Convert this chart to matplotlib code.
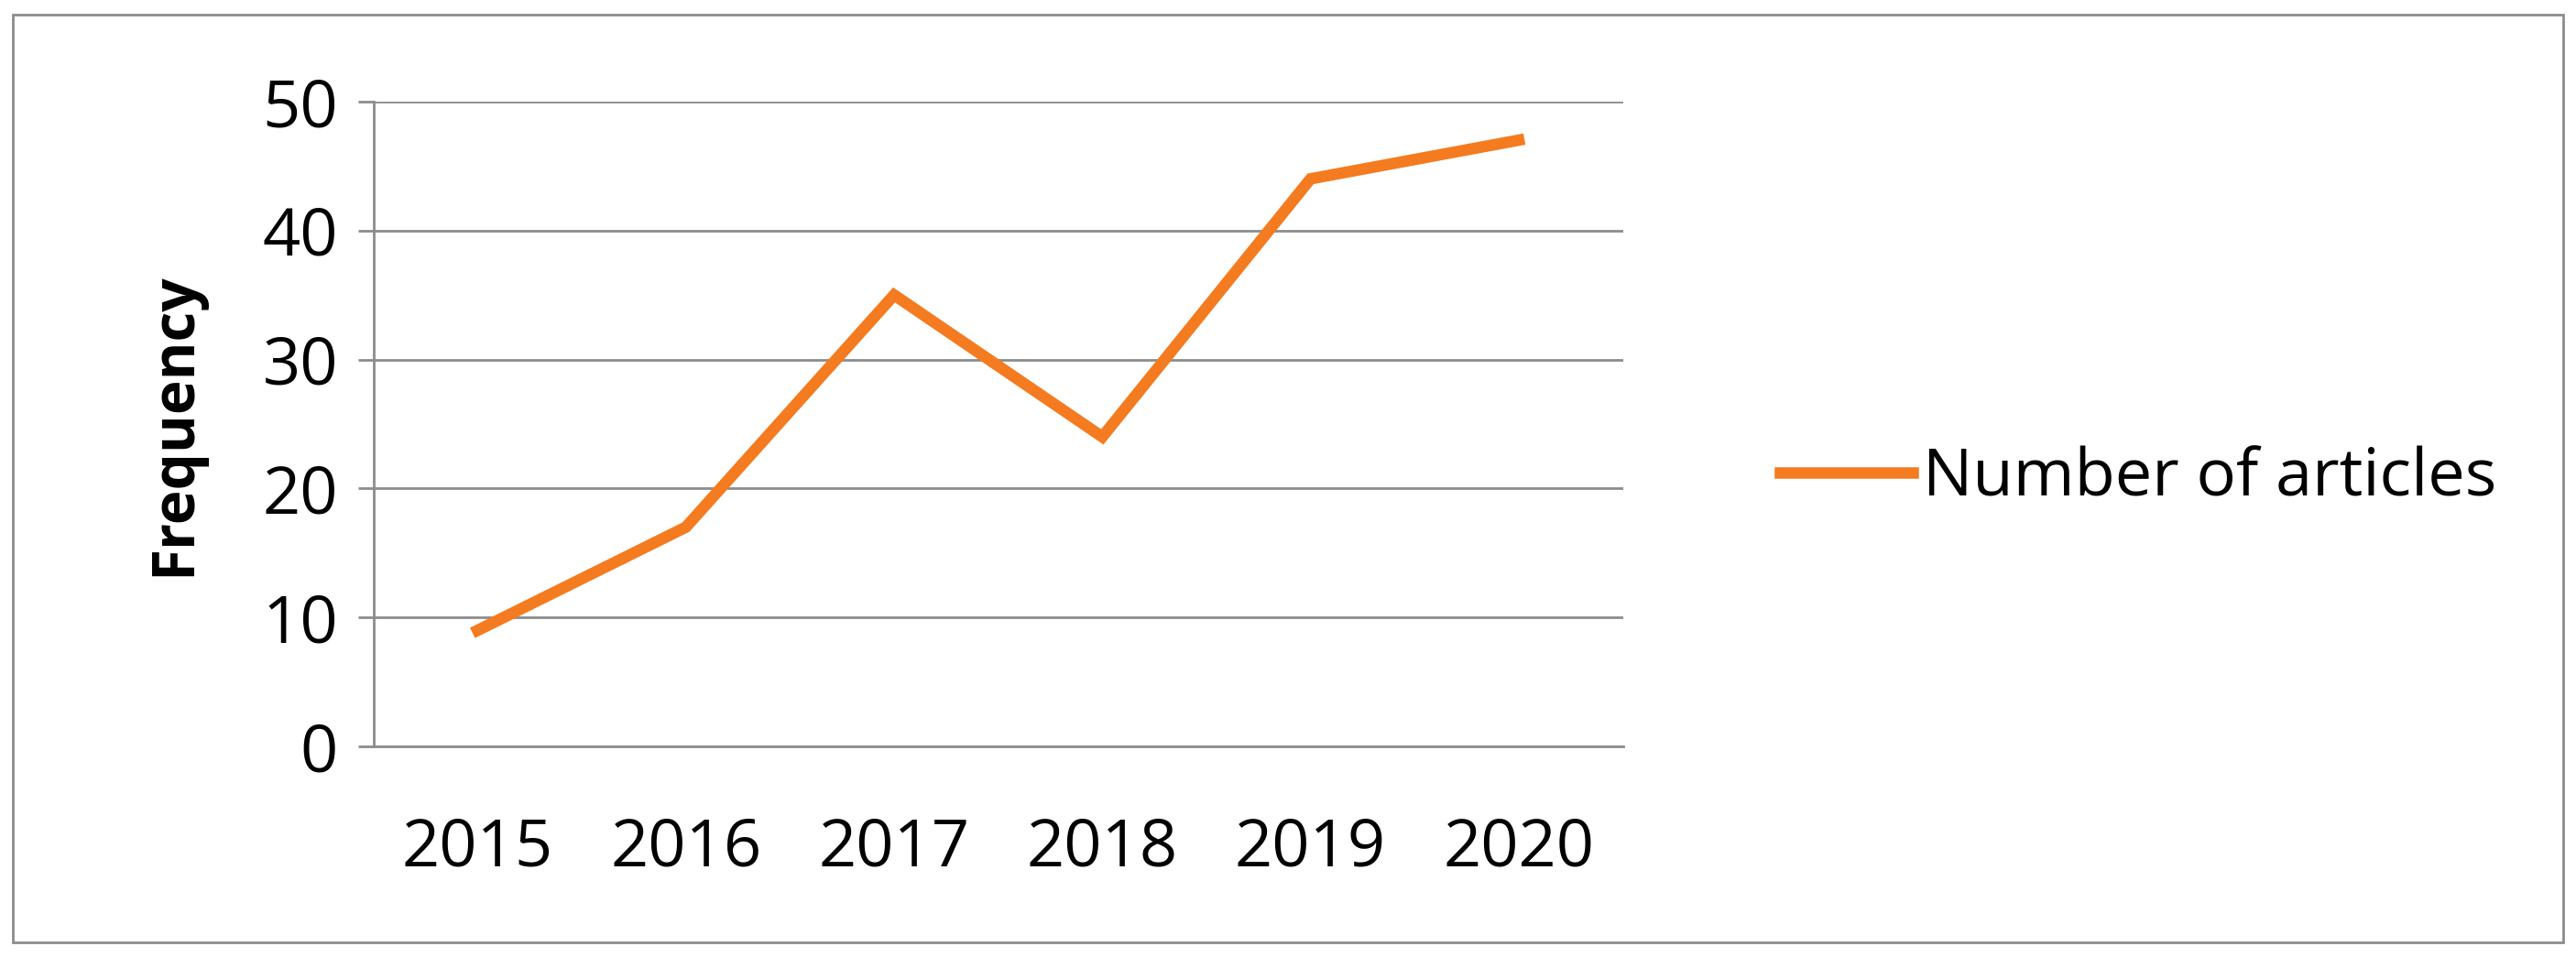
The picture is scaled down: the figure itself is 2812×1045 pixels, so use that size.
import matplotlib.pyplot as plt
import matplotlib.patches as mpatches

years = ["2015", "2016", "2017", "2018", "2019", "2020"]
articles = [9, 17, 35, 24, 44, 47]

plt.rcParams['font.family'] = ['Open Sans', 'DejaVu Sans']

fig = plt.figure(figsize=(28.12, 10.45), dpi=100)
ax = fig.add_axes([0.145, 0.22, 0.485, 0.674])

ax.plot(range(len(years)), articles, color="#F47B20", linewidth=9,
        solid_joinstyle="miter", label="Number of articles")

ax.set_xlim(-0.5, len(years) - 0.5)
ax.set_ylim(0, 50)
ax.set_yticks(range(0, 51, 10))
ax.set_xticks(range(len(years)))
ax.set_xticklabels(years)
ax.yaxis.grid(True, color="#8c8c8c", linewidth=2)
ax.set_axisbelow(True)

for s in ["top", "right"]:
    ax.spines[s].set_visible(False)
for s in ["left", "bottom"]:
    ax.spines[s].set_color("#8c8c8c")
    ax.spines[s].set_linewidth(2)

ax.tick_params(axis="y", labelsize=52, length=12, width=2, color="#8c8c8c", pad=16)
ax.tick_params(axis="x", labelsize=52, length=0, pad=55)
ax.set_ylabel("Frequency", fontsize=46, fontweight="bold", labelpad=45)

fig.legend(loc="center left", bbox_to_anchor=(0.668, 0.5), frameon=False,
           fontsize=52, handlelength=2.0, handletextpad=0.15)

# outer border
fig.patches.append(mpatches.Rectangle((0.005, 0.015), 0.99, 0.97, transform=fig.transFigure,
                                      fill=False, edgecolor="#8c8c8c", linewidth=2))

fig.savefig("out.png", dpi=100)
